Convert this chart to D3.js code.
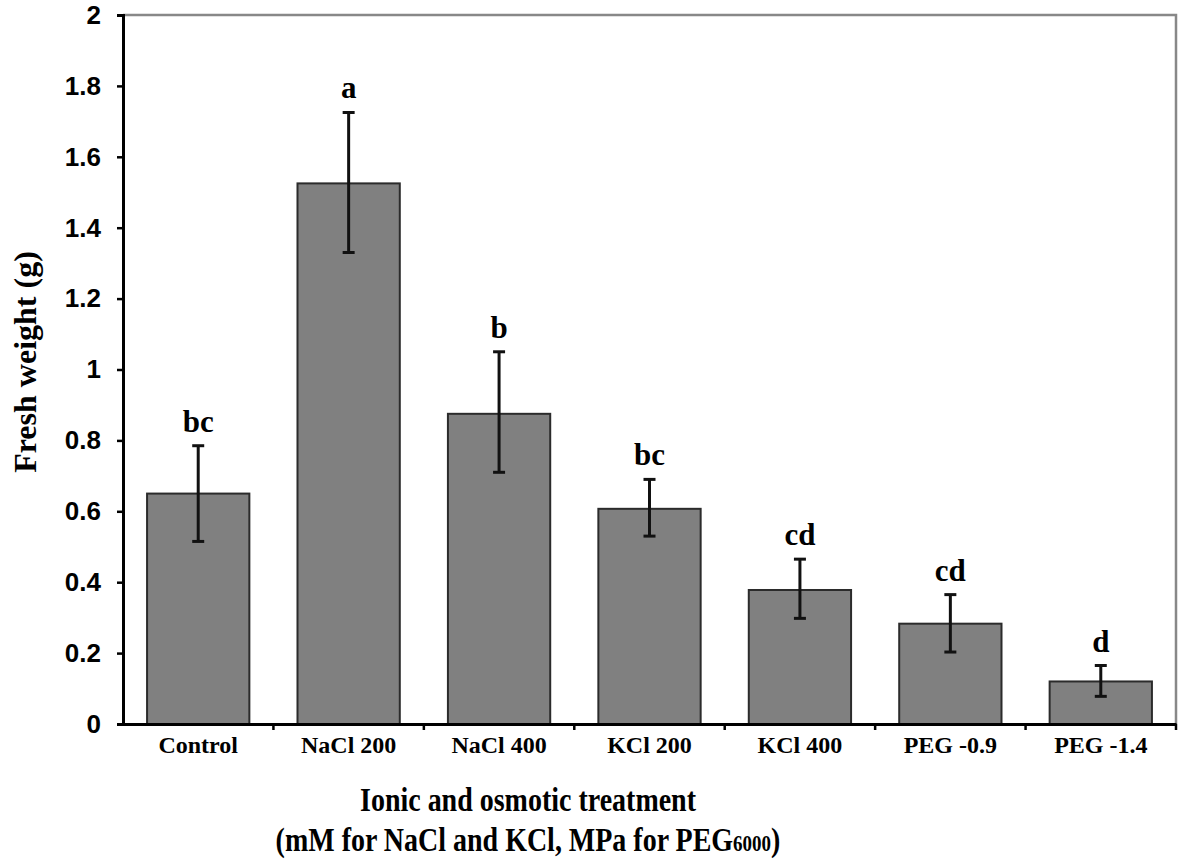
<!DOCTYPE html>
<html>
<head>
<meta charset="utf-8">
<script src="https://cdn.jsdelivr.net/npm/d3@7"></script>
<style>
  body { margin: 0; background: #fff; }
  .ytick text { font-family: "Liberation Sans", Arial, sans-serif; font-weight: bold; font-size: 26px; }
  .xtick text { font-family: "Liberation Serif", "Times New Roman", serif; font-weight: bold; font-size: 24px; }
  .title { font-family: "Liberation Serif", "Times New Roman", serif; font-weight: bold; }
</style>
</head>
<body>
<div id="chart"></div>
<script>
var treatments = ["Control", "NaCl 200", "NaCl 400", "KCl 200", "KCl 400", "PEG -0.9", "PEG -1.4"];
var freshWeight = [0.65, 1.525, 0.875, 0.607, 0.378, 0.283, 0.12];
var errTop = [0.785, 1.725, 1.05, 0.69, 0.465, 0.365, 0.165];
var errBottom = [0.515, 1.33, 0.71, 0.53, 0.298, 0.203, 0.078];
var letters = ["bc", "a", "b", "bc", "cd", "cd", "d"];
var yTicks = [0, 0.2, 0.4, 0.6, 0.8, 1, 1.2, 1.4, 1.6, 1.8, 2];

var width = 1181, height = 864;
var margin = {top: 15, right: 5, bottom: 140, left: 123};

var svg = d3.select("#chart")
    .append("svg")
    .attr("width", width)
    .attr("height", height);

var x = d3.scaleBand()
    .domain(treatments)
    .range([margin.left, width - margin.right])
    .paddingInner(0.32)
    .paddingOuter(0.16);

var y = d3.scaleLinear()
    .domain([0, 2])
    .range([height - margin.bottom, margin.top]);

var data = treatments.map(function(t, i) {
  return {name: t, value: freshWeight[i], hi: errTop[i], lo: errBottom[i], letter: letters[i]};
});

// frame (top + right, gray)
svg.append("path")
    .attr("d", "M" + margin.left + "," + y(2) + "H" + (width - margin.right) + "V" + y(0))
    .attr("fill", "none")
    .attr("stroke", "#888")
    .attr("stroke-width", 2.5);

// bars
svg.append("g")
  .selectAll("rect")
    .data(data)
    .enter().append("rect")
    .attr("x", function(d) { return x(d.name); })
    .attr("y", function(d) { return y(d.value); })
    .attr("width", x.bandwidth())
    .attr("height", function(d) { return y(0) - y(d.value); })
    .attr("fill", "#808080")
    .attr("stroke", "#2b2b2b")
    .attr("stroke-width", 2);

// error bars
var eb = svg.append("g")
  .selectAll("g")
    .data(data)
    .enter().append("g")
    .attr("transform", function(d) { return "translate(" + (x(d.name) + x.bandwidth() / 2) + ",0)"; });

eb.append("line")
    .attr("y1", function(d) { return y(d.hi); })
    .attr("y2", function(d) { return y(d.lo); })
    .attr("stroke", "#111")
    .attr("stroke-width", 3);
eb.append("line")
    .attr("x1", -6).attr("x2", 6)
    .attr("y1", function(d) { return y(d.hi); })
    .attr("y2", function(d) { return y(d.hi); })
    .attr("stroke", "#111")
    .attr("stroke-width", 3);
eb.append("line")
    .attr("x1", -6).attr("x2", 6)
    .attr("y1", function(d) { return y(d.lo); })
    .attr("y2", function(d) { return y(d.lo); })
    .attr("stroke", "#111")
    .attr("stroke-width", 3);

// significance letters
eb.append("text")
    .attr("class", "title")
    .attr("y", function(d) { return y(d.hi) - 14; })
    .attr("text-anchor", "middle")
    .style("font-size", "31px")
    .text(function(d) { return d.letter; });

// y axis
var yAxis = svg.append("g")
    .attr("class", "ytick")
    .attr("transform", "translate(" + margin.left + ",0)")
    .call(d3.axisLeft(y).tickValues(yTicks).tickSize(6).tickPadding(16).tickFormat(d3.format("")));
yAxis.select(".domain").attr("stroke", "#000").attr("stroke-width", 3);
yAxis.selectAll(".tick line").attr("stroke", "#000").attr("stroke-width", 2.5);

// x axis
var xBoundaries = treatments.map(function(t) { return x(t) - x.step() * x.paddingInner() / 2; })
    .concat([width - margin.right]);
var xAxis = svg.append("g")
    .attr("class", "xtick")
    .attr("transform", "translate(0," + y(0) + ")")
    .call(d3.axisBottom(x).tickSize(0).tickPadding(12));
xAxis.select(".domain").attr("stroke", "#000").attr("stroke-width", 3);
xAxis.selectAll(".tick text").attr("fill", "#000");
xAxis.selectAll(".bound")
    .data(xBoundaries.slice(1))
    .enter().append("line")
    .attr("x1", function(d) { return d; })
    .attr("x2", function(d) { return d; })
    .attr("y1", 0).attr("y2", 6)
    .attr("stroke", "#000")
    .attr("stroke-width", 2.5);

// axis titles
svg.append("text")
    .attr("class", "title")
    .attr("transform", "translate(36," + 362 + ") rotate(-90)")
    .attr("text-anchor", "middle")
    .style("font-size", "32px")
    .text("Fresh weight (g)");

svg.append("text")
    .attr("class", "title")
    .attr("transform", "translate(528,811) scale(1,1.2)")
    .attr("text-anchor", "middle")
    .style("font-size", "28px")
    .text("Ionic and osmotic treatment");

var sub = svg.append("text")
    .attr("class", "title")
    .attr("transform", "translate(528,851) scale(1,1.2)")
    .attr("text-anchor", "middle")
    .style("font-size", "28px");
sub.append("tspan").text("(mM for NaCl and KCl, MPa for PEG");
sub.append("tspan").style("font-size", "19px").text("6000");
sub.append("tspan").text(")");
</script>
</body>
</html>
